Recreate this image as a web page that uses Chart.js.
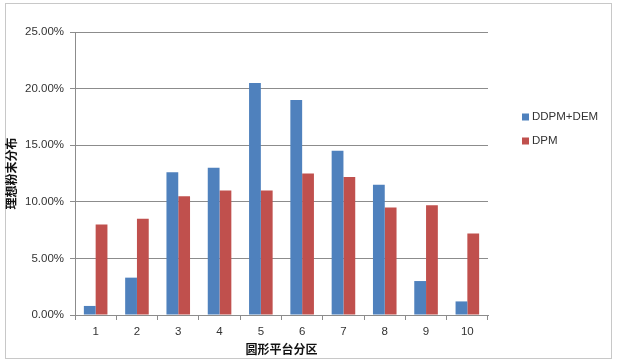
<!DOCTYPE html>
<html>
<head>
<meta charset="utf-8">
<script src="https://cdn.jsdelivr.net/npm/chart.js@4.4.0/dist/chart.umd.min.js"></script>
<style>
    body { margin: 0; background: #fff; }
    #wrap { position: relative; width: 618px; height: 363px; }
    #frame { position: absolute; left: 5px; top: 3px; width: 607px; height: 356px; border: 1px solid #c8c8c8; box-sizing: border-box; }
    canvas { position: absolute; left: 0; top: 0; }
</style>
</head>
<body>
<div id="wrap">
    <div id="frame"></div>
    <canvas id="barChart" width="618" height="363"></canvas>
</div>
<script>
// 분구별 분포 데이터 (%)
var categories = ['1', '2', '3', '4', '5', '6', '7', '8', '9', '10'];
var ddpmDem = [0.8, 3.3, 12.6, 13.0, 20.5, 19.0, 14.5, 11.5, 3.0, 1.2];
var dpm = [8.0, 8.5, 10.5, 11.0, 11.0, 12.5, 12.2, 9.5, 9.7, 7.2];
var yTicks = [0, 5, 10, 15, 20, 25];

var tickFont = { family: 'Liberation Sans, Arial, sans-serif', size: 11.5 };
var titleFont = { family: 'Noto Sans CJK SC, sans-serif', size: 12, weight: 'bold' };

// 오른쪽 범례 직접 그리기
var sideLegend = {
    id: 'sideLegend',
    afterDraw: function(chart) {
        var ctx = chart.ctx;
        var items = chart.data.datasets;
        ctx.save();
        ctx.font = '11.5px Liberation Sans, Arial, sans-serif';
        ctx.textBaseline = 'middle';
        for (var i = 0; i < items.length; i++) {
            var y = 117 + i * 24;
            ctx.fillStyle = items[i].backgroundColor;
            ctx.fillRect(522, y - 3.5, 7, 7);
            ctx.fillStyle = '#333';
            ctx.fillText(items[i].label, 532, y);
        }
        ctx.restore();
    }
};

var ctx = document.getElementById('barChart').getContext('2d');
var barChart = new Chart(ctx, {
    type: 'bar',
    data: {
        labels: categories,
        datasets: [
            {
                label: 'DDPM+DEM',
                data: ddpmDem,
                backgroundColor: '#4F81BD',
                categoryPercentage: 0.571,
                barPercentage: 1.0
            },
            {
                label: 'DPM',
                data: dpm,
                backgroundColor: '#C0504D',
                categoryPercentage: 0.571,
                barPercentage: 1.0
            }
        ]
    },
    options: {
        responsive: false,
        animation: false,
        layout: {
            padding: { left: 4, right: 130, top: 32, bottom: 0 }
        },
        plugins: {
            legend: { display: false },
            tooltip: { enabled: false }
        },
        scales: {
            x: {
                grid: {
                    offset: true,
                    drawOnChartArea: false,
                    drawTicks: true,
                    tickLength: 5,
                    color: '#8c8c8c'
                },
                border: { display: true, color: '#8c8c8c' },
                ticks: { font: tickFont, color: '#333', padding: 5 },
                title: {
                    display: true,
                    text: '圆形平台分区',
                    font: titleFont,
                    color: '#111',
                    padding: { top: 0, bottom: 6 }
                },
                afterFit: function(scale) { scale.height = 48; }
            },
            y: {
                min: 0,
                max: 25,
                afterBuildTicks: function(scale) {
                    scale.ticks = yTicks.map(function(v) { return { value: v }; });
                },
                grid: {
                    color: '#8c8c8c',
                    drawTicks: true,
                    tickLength: 5
                },
                border: { display: true, color: '#8c8c8c' },
                ticks: {
                    font: tickFont,
                    color: '#333',
                    padding: 6,
                    callback: function(v) { return v.toFixed(2) + '%'; }
                },
                title: {
                    display: true,
                    text: '理想粉末分布',
                    font: titleFont,
                    color: '#111',
                    padding: { top: 0, bottom: 2 }
                },
                afterFit: function(scale) { scale.width = 71; }
            }
        }
    },
    plugins: [sideLegend]
});
</script>
</body>
</html>
